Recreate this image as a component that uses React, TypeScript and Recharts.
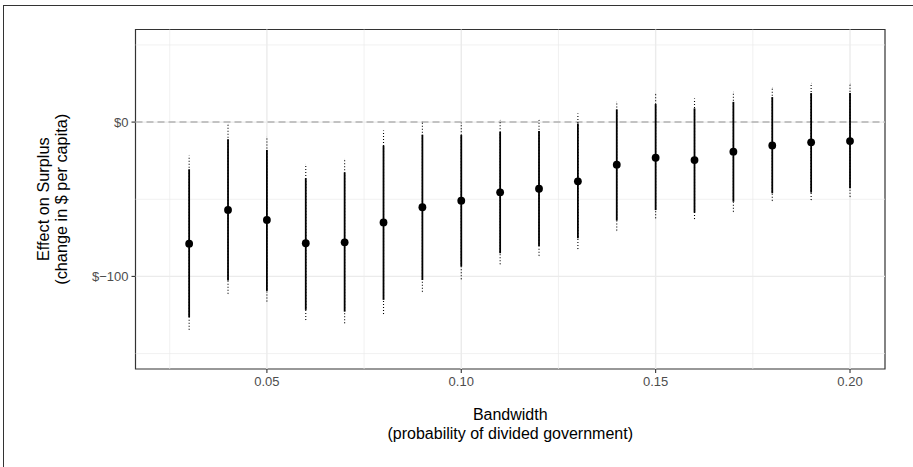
import {
  ComposedChart,
  Scatter,
  ErrorBar,
  XAxis,
  YAxis,
  ReferenceLine,
  ReferenceArea,
  Label,
} from "recharts";

const bandwidth = [0.03, 0.04, 0.05, 0.06, 0.07, 0.08, 0.09, 0.1, 0.11, 0.12, 0.13, 0.14, 0.15, 0.16, 0.17, 0.18, 0.19, 0.2];
const estimate = [-78.8, -56.9, -63.4, -78.5, -77.9, -65, -55.2, -50.9, -45.5, -43.2, -38.4, -27.6, -23.1, -24.6, -19.2, -15.1, -13.1, -12.3];
const lo90 = [-126.4, -102.7, -109.4, -121.7, -122.8, -115.2, -102.3, -93.6, -85, -80.3, -75.3, -63.8, -57, -58.7, -51.6, -46.1, -45.7, -42.9];
const hi90 = [-30.6, -11.2, -18.1, -36.4, -32.6, -15.2, -8.2, -8.4, -6.3, -5.8, -0.9, 8.2, 11.7, 8.9, 13.1, 16.2, 18.8, 18.8];
const lo95 = [-134.6, -111.3, -116.3, -128.2, -130.3, -124.3, -109.9, -101.8, -92.1, -86.6, -82.2, -70.3, -62.3, -62.8, -58.1, -50.9, -50.5, -48.3];
const hi95 = [-21.6, -1.3, -9.5, -27.4, -24.1, -5.5, 0.2, -0.5, 1.3, 1.3, 5.6, 13.1, 18.1, 15.3, 19.6, 22.2, 25.1, 24.7];

const xTicks = [0.05, 0.1, 0.15, 0.2];
const xMinor = [0.025, 0.075, 0.125, 0.175];
const yTicks = [-100, 0];
const yMinor = [-150, -50, 50];
const xDomain = [0.0162, 0.209];
const yDomain = [-160, 60];

const rows = bandwidth.map((x, i) => ({
  x,
  est: estimate[i],
  ci90: [estimate[i] - lo90[i], hi90[i] - estimate[i]],
  ci95: [estimate[i] - lo95[i], hi95[i] - estimate[i]],
}));

const FONT = '"Liberation Sans", Arial, Helvetica, sans-serif';
const GRID = "#ebebeb";

const dollar = (v: number) => (v < 0 ? `$\u2212${Math.abs(v)}` : `$${v}`);

function XTitle(props: any) {
  const vb = props.viewBox;
  const cx = vb.x + vb.width / 2;
  return (
    <text textAnchor="middle" fontSize={16} fill="#000" fontFamily={FONT}>
      <tspan x={cx} y={vb.y + 51}>Bandwidth</tspan>
      <tspan x={cx} y={vb.y + 70}>(probability of divided government)</tspan>
    </text>
  );
}

function YTitle(props: any) {
  const vb = props.viewBox;
  const cy = vb.y + vb.height / 2;
  return (
    <g transform={`translate(${vb.x - 26.5},${cy}) rotate(-90)`}>
      <text textAnchor="middle" fontSize={16.3} fill="#000" fontFamily={FONT}>
        <tspan x={0} y={0}>Effect on Surplus</tspan>
        <tspan x={0} y={18}>(change in $ per capita)</tspan>
      </text>
    </g>
  );
}

function Dot(props: any) {
  return <circle cx={props.cx} cy={props.cy} r={3.9} fill="#000" />;
}

export default function App() {
  return (
    <div style={{ position: "absolute", left: 0, top: 0, width: 913, height: 467, background: "#fff" }}>
      <div
        style={{
          position: "absolute",
          left: 3,
          top: 5,
          right: 0,
          bottom: 0,
          borderTop: "1.5px solid #333",
          borderLeft: "1.5px solid #333",
        }}
      />
      <div style={{ position: "absolute", left: 0, top: 0 }}>
        <ComposedChart
          width={913}
          height={467}
          data={rows}
          margin={{ top: 29.5, right: 28, bottom: 68, left: 75.5 }}
        >
          <XAxis
            type="number"
            dataKey="x"
            domain={xDomain}
            ticks={xTicks}
            allowDataOverflow
            tickFormatter={(v: number) => v.toFixed(2)}
            axisLine={false}
            tickLine={{ stroke: "#333", strokeWidth: 1.1 }}
            tickSize={4}
            tickMargin={4}
            height={30}
            tick={{ fill: "#4d4d4d", fontSize: 13, fontFamily: FONT }}
          >
            <Label content={XTitle} />
          </XAxis>
          <YAxis
            type="number"
            domain={yDomain}
            ticks={yTicks}
            allowDataOverflow
            tickFormatter={dollar}
            axisLine={false}
            tickLine={{ stroke: "#333", strokeWidth: 1.1 }}
            tickSize={4}
            tickMargin={3}
            width={60}
            tick={{ fill: "#4d4d4d", fontSize: 13, fontFamily: FONT }}
          >
            <Label content={YTitle} />
          </YAxis>
          {yMinor.map((v) => (
            <ReferenceLine key={`ym${v}`} y={v} stroke={GRID} strokeWidth={0.7} />
          ))}
          {xMinor.map((v) => (
            <ReferenceLine key={`xm${v}`} x={v} stroke={GRID} strokeWidth={0.7} />
          ))}
          {yTicks.map((v) => (
            <ReferenceLine key={`y${v}`} y={v} stroke={GRID} strokeWidth={1.4} />
          ))}
          {xTicks.map((v) => (
            <ReferenceLine key={`x${v}`} x={v} stroke={GRID} strokeWidth={1.4} />
          ))}
          <ReferenceLine y={0} stroke="#b3b3b3" strokeWidth={1.5} strokeDasharray="7 4" />
          <ReferenceArea
            x1={xDomain[0]}
            x2={xDomain[1]}
            y1={yDomain[0]}
            y2={yDomain[1]}
            fill="none"
            fillOpacity={0}
            stroke="#333"
            strokeWidth={1.2}
            ifOverflow="visible"
          />
          <Scatter dataKey="est" isAnimationActive={false} shape={Dot}>
            <ErrorBar
              dataKey="ci95"
              direction="y"
              width={0}
              stroke="#000"
              strokeWidth={1.1}
              strokeDasharray="1 2"
              isAnimationActive={false}
            />
            <ErrorBar
              dataKey="ci90"
              direction="y"
              width={0}
              stroke="#000"
              strokeWidth={1.8}
              isAnimationActive={false}
            />
          </Scatter>
        </ComposedChart>
      </div>
    </div>
  );
}
